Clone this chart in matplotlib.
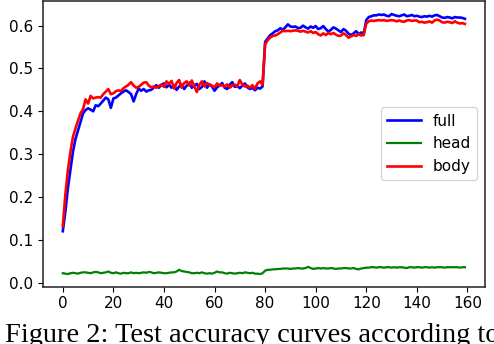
import matplotlib
matplotlib.use("Agg")
import matplotlib.pyplot as plt
import numpy as np

epochs = list(range(160))

full = [
    0.120, 0.165, 0.220, 0.262, 0.305, 0.335, 0.355, 0.375, 0.395, 0.403,
    0.407, 0.404, 0.400, 0.414, 0.412, 0.418, 0.425, 0.432, 0.428, 0.408,
    0.430, 0.432, 0.437, 0.442, 0.446, 0.449, 0.445, 0.440, 0.423, 0.440,
    0.453, 0.448, 0.452, 0.446, 0.449, 0.450, 0.456, 0.461, 0.455, 0.462,
    0.465, 0.456, 0.462, 0.455, 0.461, 0.450, 0.458, 0.463, 0.452, 0.460,
    0.467, 0.455, 0.460, 0.464, 0.452, 0.457, 0.470, 0.455, 0.463, 0.458,
    0.448, 0.456, 0.460, 0.466, 0.455, 0.452, 0.462, 0.468, 0.457, 0.459,
    0.454, 0.460, 0.465, 0.456, 0.452, 0.455, 0.449, 0.455, 0.453, 0.458,
    0.562, 0.570, 0.578, 0.582, 0.587, 0.589, 0.594, 0.590, 0.596, 0.603,
    0.598, 0.597, 0.598, 0.594, 0.595, 0.600, 0.596, 0.593, 0.598, 0.595,
    0.599, 0.592, 0.594, 0.599, 0.592, 0.586, 0.590, 0.596, 0.593, 0.589,
    0.585, 0.592, 0.588, 0.581, 0.578, 0.582, 0.587, 0.580, 0.584, 0.582,
    0.613, 0.620, 0.622, 0.624, 0.624, 0.626, 0.625, 0.626, 0.623, 0.622,
    0.627, 0.625, 0.623, 0.622, 0.624, 0.626, 0.622, 0.623, 0.625, 0.622,
    0.623, 0.621, 0.620, 0.622, 0.621, 0.623, 0.621, 0.624, 0.625, 0.622,
    0.619, 0.618, 0.620, 0.619, 0.617, 0.620, 0.619, 0.619, 0.618, 0.616,
]

head = [
    0.022, 0.021, 0.020, 0.022, 0.023, 0.022, 0.021, 0.023, 0.024, 0.024,
    0.023, 0.022, 0.024, 0.025, 0.024, 0.022, 0.023, 0.024, 0.026, 0.023,
    0.022, 0.024, 0.022, 0.021, 0.023, 0.022, 0.022, 0.024, 0.022, 0.023,
    0.022, 0.023, 0.024, 0.023, 0.025, 0.024, 0.022, 0.023, 0.024, 0.023,
    0.022, 0.022, 0.023, 0.024, 0.024, 0.026, 0.030, 0.027, 0.026, 0.025,
    0.024, 0.022, 0.022, 0.023, 0.022, 0.024, 0.022, 0.021, 0.022, 0.021,
    0.023, 0.026, 0.024, 0.024, 0.022, 0.021, 0.023, 0.022, 0.021, 0.022,
    0.023, 0.022, 0.024, 0.023, 0.022, 0.023, 0.021, 0.021, 0.020, 0.022,
    0.028, 0.030, 0.030, 0.031, 0.031, 0.032, 0.032, 0.033, 0.033, 0.033,
    0.032, 0.033, 0.033, 0.034, 0.033, 0.033, 0.034, 0.037, 0.034, 0.032,
    0.033, 0.034, 0.033, 0.034, 0.033, 0.033, 0.034, 0.033, 0.032, 0.033,
    0.033, 0.034, 0.034, 0.033, 0.033, 0.034, 0.032, 0.031, 0.033, 0.034,
    0.035, 0.035, 0.036, 0.036, 0.035, 0.036, 0.036, 0.035, 0.036, 0.036,
    0.035, 0.036, 0.035, 0.036, 0.036, 0.035, 0.034, 0.036, 0.036, 0.035,
    0.036, 0.036, 0.035, 0.036, 0.036, 0.035, 0.036, 0.035, 0.036, 0.036,
    0.036, 0.035, 0.036, 0.036, 0.036, 0.036, 0.036, 0.035, 0.036, 0.036,
]

body = [
    0.132, 0.205, 0.262, 0.305, 0.340, 0.360, 0.378, 0.395, 0.405, 0.428,
    0.418, 0.436, 0.430, 0.432, 0.433, 0.432, 0.440, 0.446, 0.452, 0.440,
    0.442, 0.447, 0.449, 0.447, 0.454, 0.458, 0.462, 0.468, 0.460, 0.455,
    0.457, 0.462, 0.467, 0.468, 0.460, 0.456, 0.458, 0.455, 0.459, 0.462,
    0.457, 0.470, 0.464, 0.471, 0.453, 0.466, 0.473, 0.455, 0.466, 0.470,
    0.460, 0.472, 0.459, 0.445, 0.462, 0.470, 0.458, 0.466, 0.462, 0.460,
    0.456, 0.465, 0.460, 0.461, 0.458, 0.463, 0.455, 0.460, 0.462, 0.459,
    0.473, 0.462, 0.458, 0.460, 0.455, 0.461, 0.453, 0.465, 0.470, 0.462,
    0.556, 0.566, 0.572, 0.576, 0.577, 0.580, 0.584, 0.588, 0.587, 0.588,
    0.587, 0.588, 0.589, 0.588, 0.586, 0.588, 0.586, 0.584, 0.587, 0.583,
    0.585, 0.580, 0.577, 0.582, 0.578, 0.583, 0.580, 0.583, 0.579, 0.576,
    0.577, 0.582, 0.578, 0.572, 0.575, 0.578, 0.576, 0.580, 0.577, 0.578,
    0.605, 0.610, 0.612, 0.611, 0.612, 0.613, 0.612, 0.613, 0.611, 0.612,
    0.613, 0.612, 0.610, 0.612, 0.610, 0.609, 0.612, 0.613, 0.611, 0.612,
    0.612, 0.608, 0.609, 0.607, 0.608, 0.610, 0.607, 0.612, 0.614, 0.612,
    0.608, 0.607, 0.609, 0.608, 0.606, 0.610, 0.607, 0.605, 0.606, 0.604,
]

xticks = [0, 20, 40, 60, 80, 100, 120, 140, 160]
yticks = [0.0, 0.1, 0.2, 0.3, 0.4, 0.5, 0.6]
caption = "Figure 2: Test accuracy curves according to"

W, H = 494, 344
fig = plt.figure(figsize=(W / 100, H / 100), dpi=100)
ax = fig.add_axes([42.7 / W, 1 - 286.7 / H, (485 - 42.7) / W, (286.7 - 0.8) / H])

ax.plot(epochs, full, color="blue", lw=1.9, label="full")
ax.plot(epochs, head, color="green", lw=1.6, label="head")
ax.plot(epochs, body, color="red", lw=1.9, label="body")

ax.set_xticks(xticks)
ax.set_yticks(yticks)
ax.set_xlim(-7.95, 166.95)
ax.set_ylim(-0.0095, 0.658)
ax.tick_params(labelsize=11)
for s in ax.spines.values():
    s.set_linewidth(1.1)
    s.set_color("#222222")

leg = ax.legend(loc="center right", fontsize=11, bbox_to_anchor=(1.0, 0.5),
                handlelength=2.2)

fig.text(5 / W, 1 - 342.5 / H, caption, fontsize=20.4, family="Liberation Serif",
         va="baseline", ha="left")

fig.savefig("out.png", dpi=100)
